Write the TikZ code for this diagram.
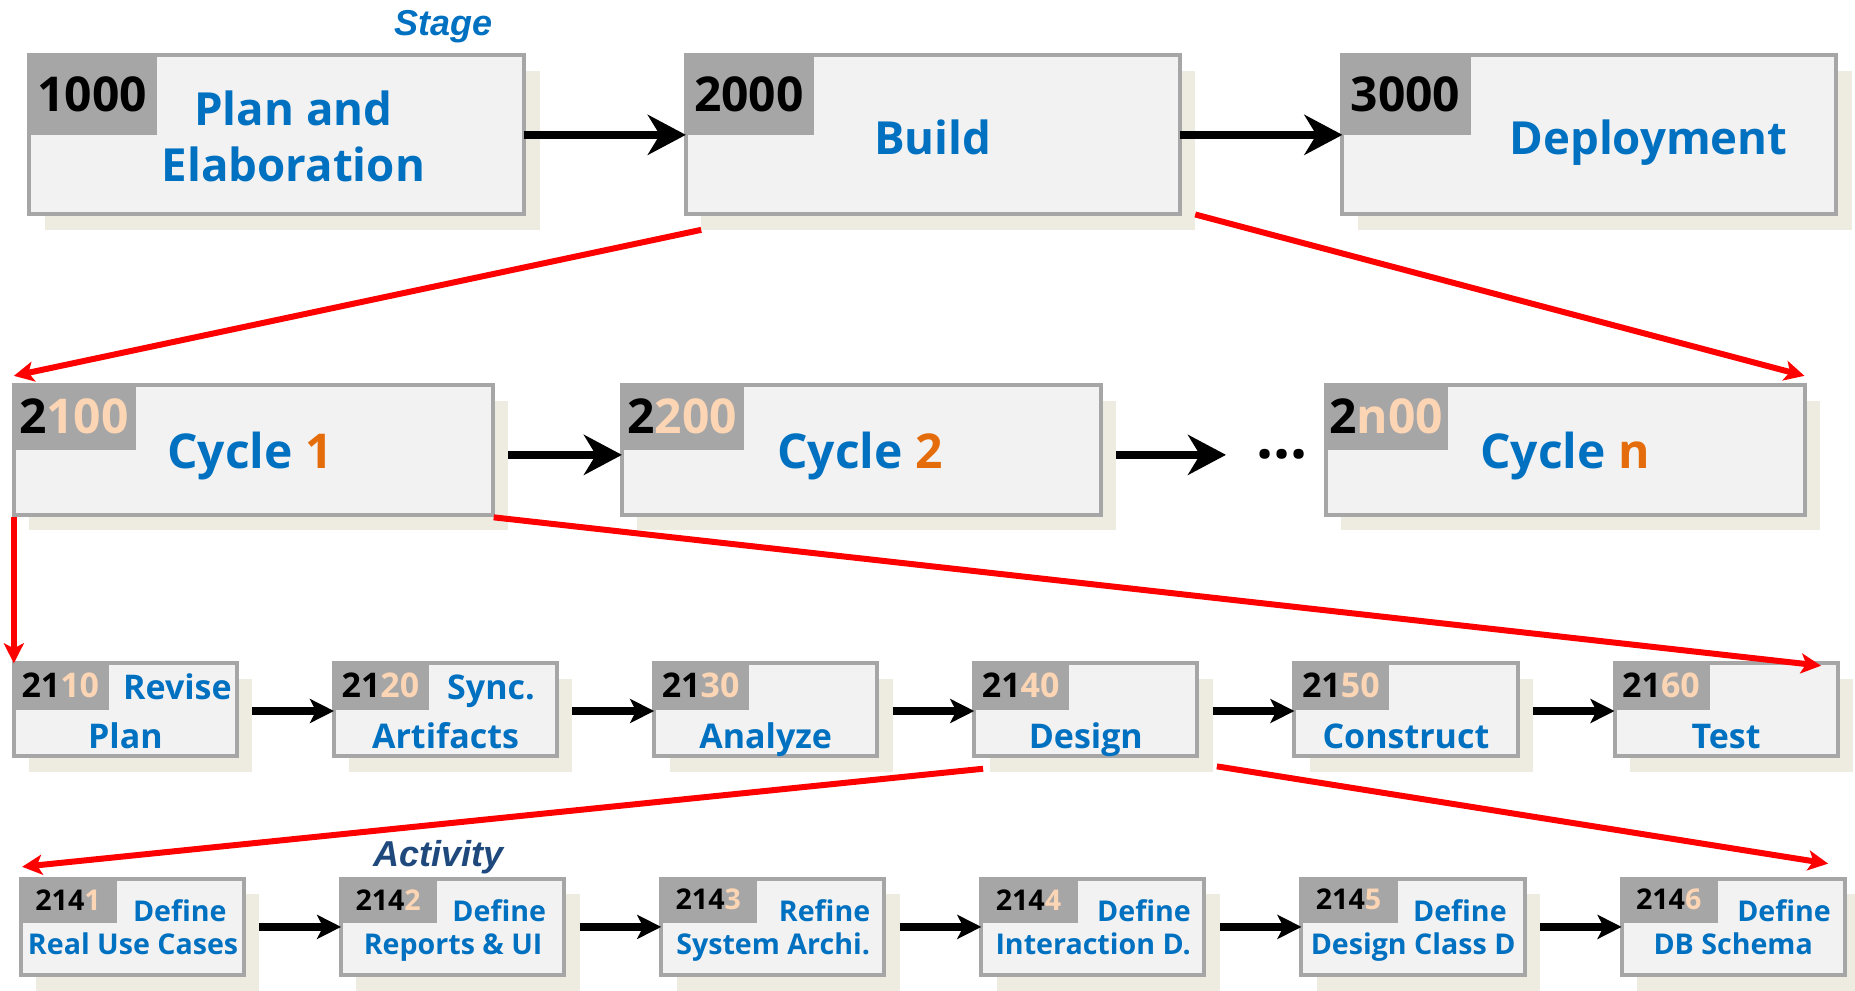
\documentclass[tikz,border=0pt]{standalone}
\usepackage{fontspec}
\setmainfont{Open Sans}
\newfontfamily\arialf{Liberation Sans}
\usetikzlibrary{arrows.meta,shadows,calc}
\definecolor{blueT}{HTML}{0070C0}
\definecolor{orangeT}{HTML}{E46C0A}
\definecolor{peachT}{HTML}{FCD5B5}
\definecolor{labG}{HTML}{A6A6A6}
\definecolor{boxF}{HTML}{F2F2F2}
\definecolor{shadF}{HTML}{EEECE1}
\definecolor{actB}{HTML}{1F497D}
\definecolor{redA}{HTML}{FF0000}
\newcommand\myfA{\bfseries\fontsize{24}{28}\selectfont}
\newcommand\myfW{\bfseries\fontsize{22.8}{27}\selectfont}
\newcommand\myfD{\bfseries\fontsize{30}{34}\selectfont}
\newcommand\myfB{\bfseries\fontsize{17}{20}\selectfont}
\newcommand\myfC{\bfseries\fontsize{14.3}{17}\selectfont}
\newcommand\myfS{\arialf\bfseries\itshape\fontsize{18}{21}\selectfont}
\tikzset{
  boxst/.style={draw=labG, fill=boxF, line width=2pt, inner sep=0pt, outer sep=0pt, rectangle,
    drop shadow={shadow xshift=7.7pt, shadow yshift=-7.7pt, fill=shadF, opacity=1}},
  labst/.style={fill=labG, inner sep=0pt, outer sep=0pt, anchor=north west, text=black, rectangle},
  txt/.style={text=blueT, inner sep=0pt, outer sep=0pt, anchor=base},
  bigar/.style={line width=4pt, -{Stealth[length=19pt,width=20pt,inset=6pt]}},
  smar/.style={line width=4pt, -{Stealth[length=12pt,width=12pt,inset=3pt]}},
  redar/.style={draw=redA, line width=3pt, -{Stealth[length=10pt,width=10pt,inset=2.5pt]}},
}
\newcommand\mkbox[5]{\node[boxst, minimum width={(#4-#2-3.4)*0.59152pt}, minimum height={(#5-#3-3.4)*0.59152pt}] (#1) at ({(#2+#4)/2},{(#3+#5)/2}) {};}
\newcommand\mklab[7]{\node[labst, minimum width={#4*0.59152pt}, minimum height={#5*0.59152pt}, font=#6] (#1) at (#2,#3) {#7};}
\begin{document}
\begin{tikzpicture}[x=0.59152pt,y=-0.59152pt]
\useasboundingbox (0,0) rectangle (1568,837);
% ---------- Row 1 : stages
\node[txt, font=\myfS] (stage) at (375,29.6) {Stage};
\mkbox{A1}{23}{45}{445}{183}
\mkbox{A2}{578}{45}{999}{183}
\mkbox{A3}{1133}{45}{1554}{183}
\mklab{L1}{23}{45}{110}{69}{\myfA}{1000}
\mklab{L2}{578}{45}{110}{69}{\myfA}{2000}
\mklab{L3}{1133}{45}{110}{69}{\myfA}{3000}
\node[txt, font=\myfW] (t1a) at (248,105.7) {Plan and};
\node[txt, font=\myfW] (t1b) at (248,153.6) {Elaboration};
\node[txt, font=\myfW] (t2) at (788.5,130.5) {Build};
\node[txt, font=\myfW] (t3) at (1393.5,130.5) {Deployment};
\draw[bigar] (A1.east) -- (A2.west);
\draw[bigar] (A2.east) -- (A3.west);
% ---------- Row 2 : cycles
\mkbox{B1}{10}{324}{418}{437}
\mkbox{B2}{524}{324}{932}{437}
\mkbox{B3}{1119}{324}{1527}{437}
\mklab{M1}{10}{324}{105}{56}{\myfA}{2\textcolor{peachT}{100}}
\mklab{M2}{524}{324}{105}{56}{\myfA}{2\textcolor{peachT}{200}}
\mklab{M3}{1119}{324}{105}{56}{\myfA}{2\textcolor{peachT}{n00}}
\node[txt, font=\myfA] (c1) at (211.4,396) {Cycle \textcolor{orangeT}{1}};
\node[txt, font=\myfA] (c2) at (727,396) {Cycle \textcolor{orangeT}{2}};
\node[txt, font=\myfA] (c3) at (1322.8,396) {Cycle \textcolor{orangeT}{n}};
\node[inner sep=0pt, font=\myfD] (dots) at (1083.5,384) {...};
\coordinate (dotsin) at ([shift={(106,4)}]B2.east);
\draw[bigar] ([shift={(13,4)}]B1.east) -- ([shift={(0,4)}]B2.west);
\draw[bigar] ([shift={(13,4)}]B2.east) -- (dotsin);
% ---------- Row 3 : phases
\mkbox{C1}{10}{559}{202}{641}
\mkbox{C2}{280.6}{559}{472.6}{641}
\mkbox{C3}{551.2}{559}{743.2}{641}
\mkbox{C4}{821.8}{559}{1013.8}{641}
\mkbox{C5}{1092.4}{559}{1284.4}{641}
\mkbox{C6}{1363}{559}{1555}{641}
\mklab{N1}{10}{559}{82}{41}{\myfB}{21\textcolor{peachT}{10}}
\mklab{N2}{280.6}{559}{82}{41}{\myfB}{21\textcolor{peachT}{20}}
\mklab{N3}{551.2}{559}{82}{41}{\myfB}{21\textcolor{peachT}{30}}
\mklab{N4}{821.8}{559}{82}{41}{\myfB}{21\textcolor{peachT}{40}}
\mklab{N5}{1092.4}{559}{82}{41}{\myfB}{21\textcolor{peachT}{50}}
\mklab{N6}{1363}{559}{82}{41}{\myfB}{21\textcolor{peachT}{60}}
\node[txt, font=\myfB] (p1a) at (150,591) {Revise};
\node[txt, font=\myfB] (p1b) at (106,632.5) {Plan};
\node[txt, font=\myfB] (p2a) at (415,591) {Sync.};
\node[txt, font=\myfB] (p2b) at (376.6,632.5) {Artifacts};
\node[txt, font=\myfB] (p3b) at (647.2,632.5) {Analyze};
\node[txt, font=\myfB] (p4b) at (917.8,632.5) {Design};
\node[txt, font=\myfB] (p5b) at (1188.4,632.5) {Construct};
\node[txt, font=\myfB] (p6b) at (1459,632.5) {Test};
\draw[smar] ([shift={(13,1)}]C1.east) -- ([shift={(0,1)}]C2.west);
\draw[smar] ([shift={(13,1)}]C2.east) -- ([shift={(0,1)}]C3.west);
\draw[smar] ([shift={(13,1)}]C3.east) -- ([shift={(0,1)}]C4.west);
\draw[smar] ([shift={(13,1)}]C4.east) -- ([shift={(0,1)}]C5.west);
\draw[smar] ([shift={(13,1)}]C5.east) -- ([shift={(0,1)}]C6.west);
% ---------- Row 4 : activities
\node[txt, font=\myfS, text=actB] (activity) at (370.5,732.6) {Activity};
\mkbox{D1}{16}{741}{208}{826}
\mkbox{D2}{286.6}{741}{478.6}{826}
\mkbox{D3}{557.2}{741}{749.2}{826}
\mkbox{D4}{827.8}{741}{1019.8}{826}
\mkbox{D5}{1098.4}{741}{1290.4}{826}
\mkbox{D6}{1369}{741}{1561}{826}
\mklab{O1}{16}{741}{83}{39}{\myfC}{214\textcolor{peachT}{1}}
\mklab{O2}{286.6}{741}{83}{39}{\myfC}{214\textcolor{peachT}{2}}
\mklab{O3}{557.2}{741}{83}{39}{\myfC}{214\textcolor{peachT}{3}}
\mklab{O4}{827.8}{741}{83}{39}{\myfC}{214\textcolor{peachT}{4}}
\mklab{O5}{1098.4}{741}{83}{39}{\myfC}{214\textcolor{peachT}{5}}
\mklab{O6}{1369}{741}{83}{39}{\myfC}{214\textcolor{peachT}{6}}
\node[txt, font=\myfC] (a1a) at (152,779) {Define};
\node[txt, font=\myfC] (a1b) at (112.5,807) {Real Use Cases};
\node[txt, font=\myfC] (a2a) at (422,779) {Define};
\node[txt, font=\myfC] (a2b) at (383,807) {Reports \& UI};
\node[txt, font=\myfC] (a3a) at (697,779) {Refine};
\node[txt, font=\myfC] (a3b) at (653.5,807) {System Archi.};
\node[txt, font=\myfC] (a4a) at (967,779) {Define};
\node[txt, font=\myfC] (a4b) at (924,807) {Interaction D.};
\node[txt, font=\myfC] (a5a) at (1234,779) {Define};
\node[txt, font=\myfC] (a5b) at (1194.5,807) {Design Class D};
\node[txt, font=\myfC] (a6a) at (1508,779) {Define};
\node[txt, font=\myfC] (a6b) at (1465,807) {DB Schema};
\draw[smar] ([shift={(13,0)}]D1.east) -- (D2.west);
\draw[smar] ([shift={(13,0)}]D2.east) -- (D3.west);
\draw[smar] ([shift={(13,0)}]D3.east) -- (D4.west);
\draw[smar] ([shift={(13,0)}]D4.east) -- (D5.west);
\draw[smar] ([shift={(13,0)}]D5.east) -- (D6.west);
% ---------- red zoom-in arrows
\draw[redar] ([shift={(13,13)}]A2.south west) -- ([shift={(0,-8)}]B1.north west);
\draw[redar] ([shift={(13,0)}]A2.south east) -- ([shift={(0,-8)}]B3.north east);
\draw[redar] ([shift={(1,2)}]B1.south east) -- ([shift={(-14,2)}]C6.north east);
\draw[redar] ([shift={(0,2)}]B1.south west) -- (C1.north west);
\draw[redar] ([shift={(7.5,10.5)}]C4.south west) -- ([shift={(1,-10)}]D1.north west);
\draw[redar] ([shift={(16.5,8.5)}]C4.south east) -- ([shift={(-14,-12.7)}]D6.north east);
\end{tikzpicture}
\end{document}
